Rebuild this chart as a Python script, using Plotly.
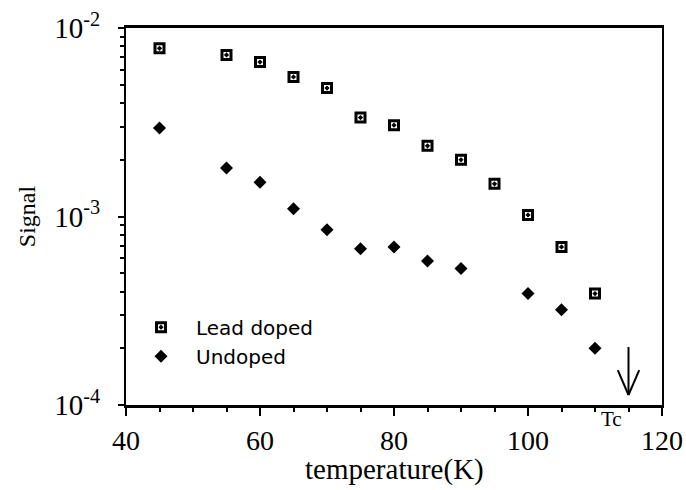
import plotly.graph_objects as go

# Data
temp_lead = [45, 55, 60, 65, 70, 75, 80, 85, 90, 95, 100, 105, 110]
signal_lead = [7.8e-3, 7.2e-3, 6.6e-3, 5.5e-3, 4.8e-3, 3.35e-3, 3.05e-3, 2.37e-3, 2.0e-3, 1.49e-3, 1.02e-3, 6.9e-4, 3.9e-4]
temp_undoped = [45, 55, 60, 65, 70, 75, 80, 85, 90, 100, 105, 110]
signal_undoped = [2.95e-3, 1.81e-3, 1.52e-3, 1.1e-3, 8.5e-4, 6.75e-4, 6.9e-4, 5.8e-4, 5.3e-4, 3.9e-4, 3.2e-4, 2.0e-4]
ytick_vals = [1e-4, 1e-3, 1e-2]
ytick_text = ["10<sup>-4</sup>", "10<sup>-3</sup>", "10<sup>-2</sup>"]
xtick_vals = [40, 60, 80, 100, 120]
tc = 115

serif = "Liberation Serif"
sans = "DejaVu Sans"

fig = go.Figure()
fig.add_trace(go.Scatter(
    x=temp_lead, y=signal_lead, mode="markers", name="Lead doped",
    marker=dict(symbol="square-open-dot", size=9, color="black",
                line=dict(width=3, color="black")),
))
fig.add_trace(go.Scatter(
    x=temp_undoped, y=signal_undoped, mode="markers", name="Undoped",
    marker=dict(symbol="diamond", size=10, color="black",
                line=dict(width=0)),
))

# Tc arrow (shaft + open V head)
tail, tip, wing = 2.03e-4, 1.13e-4, 1.53e-4
fig.add_shape(type="line", xref="x", yref="y", x0=tc, x1=tc, y0=tail, y1=tip,
              line=dict(color="black", width=2))
fig.add_shape(type="line", xref="x", yref="y", x0=tc - 1.6, x1=tc, y0=wing, y1=tip,
              line=dict(color="black", width=2))
fig.add_shape(type="line", xref="x", yref="y", x0=tc + 1.6, x1=tc, y0=wing, y1=tip,
              line=dict(color="black", width=2))
fig.add_annotation(x=tc - 2.6, y=-0.037, xref="x", yref="paper", text="Tc",
                   showarrow=False, yanchor="middle",
                   font=dict(family=serif, size=21, color="black"))
# x-axis title
fig.add_annotation(x=0.5, y=-0.172, xref="paper", yref="paper", text="temperature(K)",
                   showarrow=False, yanchor="middle", xanchor="center",
                   font=dict(family=serif, size=29, color="black"))

fig.update_layout(
    width=686, height=490,
    margin=dict(l=126, r=24, t=28, b=85, autoexpand=False),
    paper_bgcolor="white", plot_bgcolor="white",
    showlegend=True,
    legend=dict(x=0.0, y=0.258, xanchor="left", yanchor="top",
                bgcolor="rgba(0,0,0,0)", font=dict(family=sans, size=20, color="black"),
                itemwidth=60, tracegroupgap=0),
    xaxis=dict(
        range=[40, 120], tickvals=xtick_vals, ticks="outside", ticklen=8, tickwidth=2,
        tickcolor="black", showline=True, linecolor="black", linewidth=3, mirror=True,
        showgrid=False, zeroline=False, automargin=False,
        tickfont=dict(family=serif, size=28, color="black"),
        minor=dict(dtick=5, ticks="outside", ticklen=4, tickwidth=2, tickcolor="black", showgrid=False),
    ),
    yaxis=dict(
        type="log", range=[-4, -2], tickvals=ytick_vals, ticktext=ytick_text,
        ticks="outside", ticklen=6, tickwidth=2, tickcolor="black",
        showline=True, linecolor="black", linewidth=2, mirror=True,
        showgrid=False, zeroline=False, automargin=False,
        tickfont=dict(family=serif, size=29, color="black"),
        ticklabelstandoff=12,
        minor=dict(dtick="D1", ticks="outside", ticklen=4, tickwidth=2, tickcolor="black", showgrid=False),
        title=dict(text="Signal", font=dict(family=serif, size=24, color="black"), standoff=12),
    ),
)

fig.write_html("out.html")
